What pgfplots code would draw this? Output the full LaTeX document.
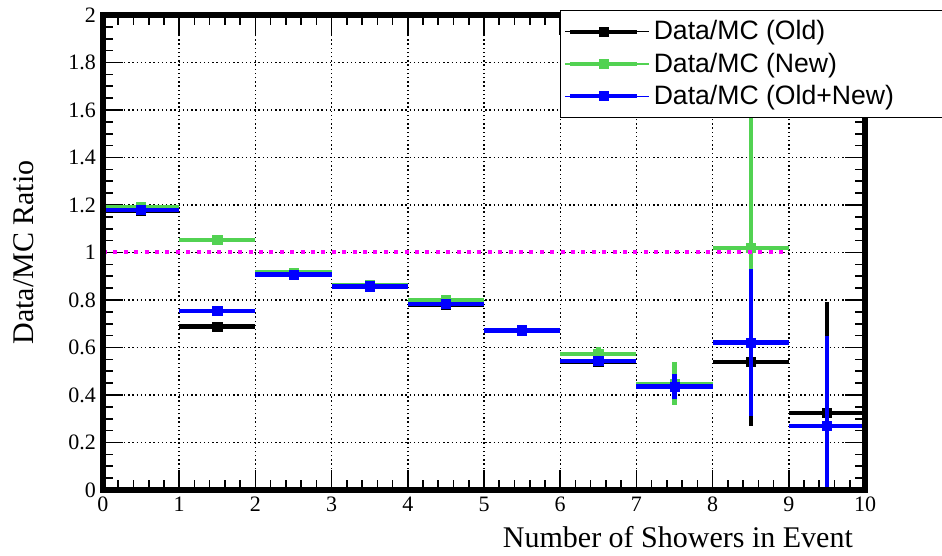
\documentclass[border=0pt]{standalone}
\usepackage{pgfplots}
\pgfplotsset{compat=1.18}
\usepackage{fontspec}
\setmainfont{Liberation Serif}
\newfontfamily\legendfont{Liberation Sans}
\definecolor{rootgreen}{RGB}{82,210,82}
\definecolor{rootblue}{RGB}{0,0,255}
\definecolor{rootmag}{RGB}{255,0,255}

% legend sample: thick line with a small square in the middle
\pgfplotsset{
    rootleg/.style={legend image code/.code={
        \path (0pt,0pt) -- (42pt,0pt);
        \draw[#1, line width=2.2pt] (2.5pt,0pt) -- (36pt,0pt);
        \fill[#1] (17pt,-2.3pt) rectangle (21.5pt,2.3pt);}}
}

\begin{document}
\begin{tikzpicture}
\useasboundingbox (-51.5pt,-33pt) rectangle (419.5pt,245pt);
\begin{axis}[
    at={(0,0)}, anchor=south west,
    scale only axis,
    width=381pt, height=237.5pt,
    xmin=0, xmax=10, ymin=0, ymax=2,
    xtick={0,1,...,10},
    ytick={0,0.2,...,2},
    minor x tick num=4,
    minor y tick num=3,
    tick align=inside,
    major tick length=10pt,
    minor tick length=5pt,
    every tick/.style={black, line width=0.8pt},
    clip mode=individual,
    grid=major,
    grid style={black, line width=0.7pt, dash pattern=on 0.7pt off 1.4pt},
    /pgf/number format/assume math mode=true,
    tick label style={font=\rmfamily\fontsize{11}{13}\selectfont},
    xlabel={Number of Showers in Event},
    ylabel={Data/MC Ratio},
    every axis x label/.style={at={(axis description cs:0.9934,-0.1221)}, anchor=base east, font=\rmfamily\fontsize{15}{18}\selectfont},
    every axis y label/.style={at={(axis description cs:-0.1037,0.5)}, rotate=90, anchor=center, font=\rmfamily\fontsize{15}{18}\selectfont},
    legend cell align=left,
    legend style={at={(axis description cs:0.5997,1.0105)}, anchor=north west,
        draw=black, line width=0.6pt, fill=white,
        font=\fontsize{13.3}{16}\selectfont\legendfont,
        inner xsep=2pt, inner ysep=4pt, row sep=3pt,
        nodes={inner ysep=1pt}},
    error bars/error bar style={line width=2.2pt},
    error bars/error mark=none,
]
\addplot[only marks, mark=square*, mark size=2.3pt, color=black, rootleg,
    error bars/.cd, x dir=both, x explicit, y dir=both, y explicit]
    coordinates {
    (0.5,1.175) +- (0.5,0.01)
    (1.5,0.688) +- (0.5,0.01)
    (2.5,0.905) +- (0.5,0.01)
    (3.5,0.857) +- (0.5,0.01)
    (4.5,0.780) +- (0.5,0.012)
    (5.5,0.672) +- (0.5,0.012)
    (6.5,0.538) +- (0.5,0.02)
    (7.5,0.435) +- (0.5,0.06)
    (8.5,0.540) +- (0.5,0.27)
    (9.5,0.323) +- (0.5,0.47)
};
\addlegendentry{\makebox[150pt][l]{Data/MC (Old)}}
\addplot[only marks, mark=square*, mark size=2.3pt, color=rootgreen, rootleg,
    error bars/.cd, x dir=both, x explicit, y dir=both, y explicit]
    coordinates {
    (0.5,1.192) +- (0.5,0.01)
    (1.5,1.052) +- (0.5,0.01)
    (2.5,0.915) +- (0.5,0.01)
    (3.5,0.864) +- (0.5,0.01)
    (4.5,0.800) +- (0.5,0.012)
    (5.5,0.674) +- (0.5,0.012)
    (6.5,0.572) +- (0.5,0.028)
    (7.5,0.447) +- (0.5,0.09)
    (8.5,1.020) +- (0.5,0.65)
};
\addlegendentry{Data/MC (New)}
\addplot[only marks, mark=square*, mark size=2.3pt, color=rootblue, rootleg,
    error bars/.cd, x dir=both, x explicit, y dir=both, y explicit]
    coordinates {
    (0.5,1.178) +- (0.5,0.01)
    (1.5,0.754) +- (0.5,0.01)
    (2.5,0.907) +- (0.5,0.01)
    (3.5,0.857) +- (0.5,0.01)
    (4.5,0.782) +- (0.5,0.012)
    (5.5,0.672) +- (0.5,0.012)
    (6.5,0.542) +- (0.5,0.015)
    (7.5,0.435) +- (0.5,0.053)
    (8.5,0.621) +- (0.5,0.31)
    (9.5,0.270) +- (0.5,0.38)
};
\addlegendentry{Data/MC (Old+New)}
\addplot[rootmag, line width=2pt, dash pattern=on 2pt off 3.2pt, forget plot]
    coordinates {(0,1) (9,1)};
% heavy ROOT frame
\draw[black, line width=3.2pt] (rel axis cs:0,0) rectangle (rel axis cs:1,1);
\end{axis}
\end{tikzpicture}
\end{document}
